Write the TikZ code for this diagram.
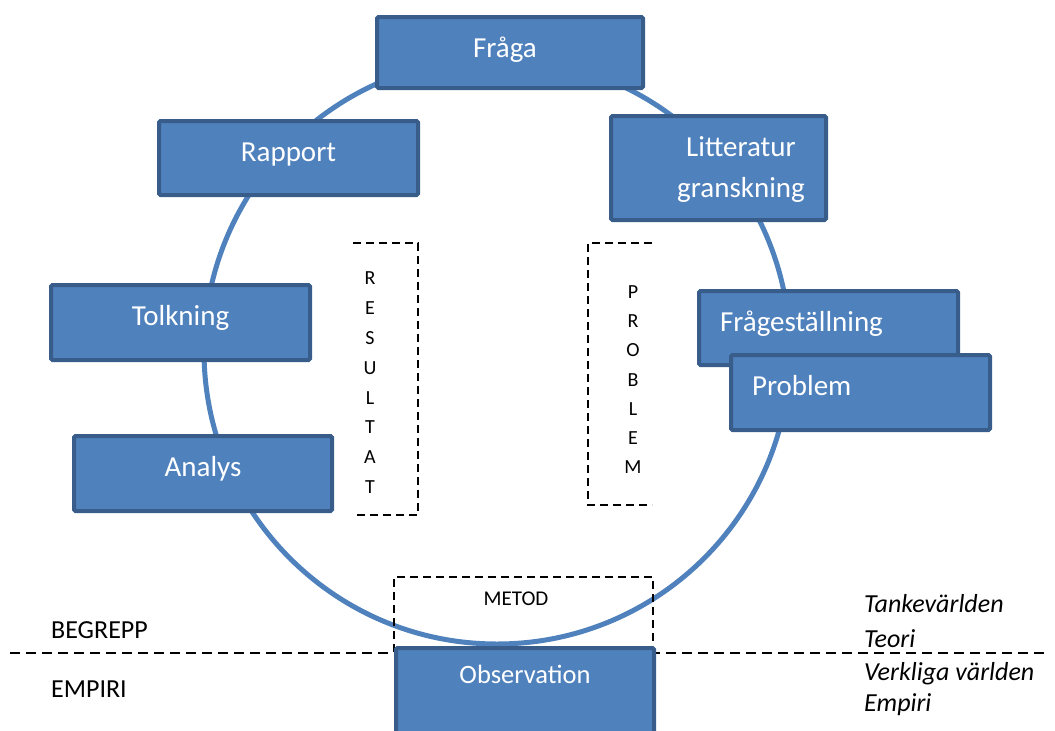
\documentclass[tikz,border=0pt]{standalone}
\usepackage{fontspec}
\setmainfont{Carlito}
\usetikzlibrary{positioning}
\definecolor{cycleblue}{RGB}{79,129,189}
\definecolor{cycleedge}{RGB}{56,93,138}

\tikzset{
  stage/.style={draw=cycleedge, fill=cycleblue, line width=4pt, text=white,
    font=\fontsize{29}{35}\selectfont, minimum width=259pt, minimum height=75pt,
    text height=20pt, text depth=14pt, inner sep=0pt, rounded corners=1.5pt},
  stagetext/.style={text=white, font=\fontsize{29}{41}\selectfont, align=center, inner sep=0pt},
  bracket/.style={dash pattern=on 8pt off 5pt, line width=1.5pt},
  letter/.style={font=\fontsize{20}{20}\selectfont, inner sep=0pt},
  sidelabel/.style={font=\fontsize{26}{30}\selectfont, anchor=base west, inner sep=0pt}
}

\begin{document}
\begin{tikzpicture}[x=1pt, y=-1pt]
\useasboundingbox (0,0) rectangle (1055,731);
% the cycle
\draw[cycleblue, line width=5pt] (497,351) circle[radius=293];
% dashed frames
\draw[bracket] (353,243) -- (418,243) -- (418,515) -- (353,515);
\draw[bracket] (652,243) -- (588,243) -- (588,505) -- (652,505);
\draw[bracket] (394,652) -- (394,577) -- (653,577) -- (653,646);
\foreach \l [count=\i from 0] in {R,E,S,U,L,T,A,T}
  \node[letter] (res\i) at (370,{278+29.9*\i}) {\l};
\foreach \l [count=\i from 0] in {P,R,O,B,L,E,M}
  \node[letter] (prob\i) at (633,{292+29.25*\i}) {\l};
\node[font=\fontsize{21}{25}\selectfont, anchor=base, inner sep=0pt] (metod) at (516,605) {METOD};
% stages
\node[stage, minimum width=266pt, minimum height=71pt] (fraga) at (510,52.5) {};
\node[stagetext, anchor=base] (fragalabel) at (505,57) {Fråga};
\node[stage, minimum height=74pt] (rapport) at (288.5,158) {Rapport};
\node[stage, minimum width=215pt, minimum height=104pt] (litt) at (718.5,168) {};
\node[stagetext] (littlabel) at (741,170) {Litteratur\\granskning};
\node[stage] (tolkning) at (180.5,322.5) {Tolkning};
\node[stage, minimum width=258pt] (analys) at (203,473.5) {Analys};
\node[stage, minimum height=74pt, align=left, text width=217pt, inner xsep=21pt] (fragest) at (828.5,328) {Frågeställning};
\node[stage, align=left, text width=217pt, inner xsep=21pt] (problem) at (860.5,392.5) {Problem};
% begrepp / empiri
\draw[dash pattern=on 10pt off 6pt, line width=2pt] (10,653) -- (1047,653);
\begin{scope}
  \clip (0,0) rectangle (1055,731);
  \node[stage, minimum width=258pt, minimum height=120pt, anchor=north] (obs) at (525,646) {};
\end{scope}
\node[stagetext, anchor=base, font=\fontsize{26.5}{30}\selectfont] (obslabel) at (525,683) {Observation};
\node[sidelabel] (begrepp) at (51,638) {BEGREPP};
\node[sidelabel] (empiri) at (51,697) {EMPIRI};
\node[sidelabel] (tanke) at (864,612) {\textit{Tankevärlden}};
\node[sidelabel] (teori) at (864,647) {\textit{Teori}};
\node[sidelabel] (verklig) at (864,680) {\textit{Verkliga världen}};
\node[sidelabel] (empir) at (864,711) {\textit{Empiri}};
\end{tikzpicture}
\end{document}
